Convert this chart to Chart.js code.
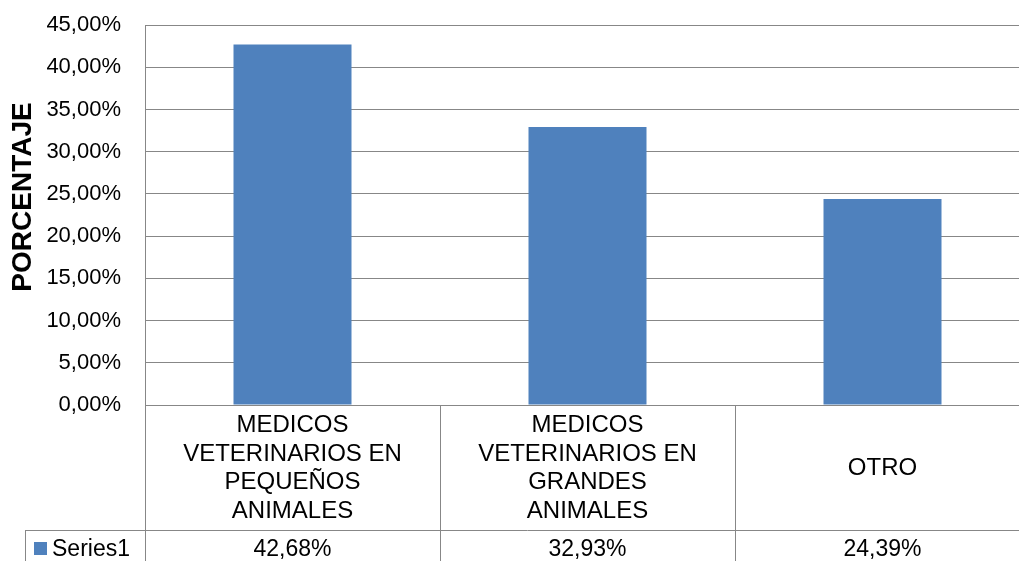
<!DOCTYPE html>
<html>
<head>
<meta charset="utf-8">
<script src="https://cdn.jsdelivr.net/npm/chart.js@4/dist/chart.umd.min.js"></script>
<style>
  html, body { margin: 0; padding: 0; background: #fff; overflow: hidden; }
  #wrap { position: relative; width: 1035px; height: 561px; }
</style>
</head>
<body>
<div id="wrap"><canvas id="chart"></canvas></div>
<script>
const categories = [
  ['MEDICOS', 'VETERINARIOS EN', 'PEQUEÑOS', 'ANIMALES'],
  ['MEDICOS', 'VETERINARIOS EN', 'GRANDES', 'ANIMALES'],
  ['OTRO']
]
const seriesName = 'Series1'
const seriesValues = [42.68, 32.93, 24.39]
const yTicks = [0, 5, 10, 15, 20, 25, 30, 35, 40, 45]
const yTitle = 'PORCENTAJE'

const barColor = '#4F81BD'
const lineColor = '#878787'
const fontFamily = 'Arial, "Liberation Sans", sans-serif'

const fmt = v => v.toFixed(2).replace('.', ',') + '%'

// draws the Excel style data table under the plot, plus the y title
const dataTable = {
  id: 'dataTable',
  afterDraw(chart) {
    const ctx = chart.ctx
    const area = chart.chartArea
    const x = chart.scales.x
    const n = categories.length
    const rowTop = area.bottom
    const rowMid = 530
    const bottom = chart.height
    const legendLeft = 25

    ctx.save()
    ctx.strokeStyle = lineColor
    ctx.lineWidth = 1
    ctx.beginPath()
    for (let i = 0; i <= n; i++) {
      const px = Math.round(x.getPixelForValue(i - 0.5)) + 0.5
      ctx.moveTo(px, rowTop)
      ctx.lineTo(px, bottom)
    }
    ctx.moveTo(legendLeft + 0.5, rowMid)
    ctx.lineTo(legendLeft + 0.5, bottom)
    ctx.moveTo(legendLeft, rowMid + 0.5)
    ctx.lineTo(area.right, rowMid + 0.5)
    ctx.stroke()

    ctx.fillStyle = '#000'
    ctx.textAlign = 'center'
    ctx.textBaseline = 'middle'
    ctx.font = '24px ' + fontFamily
    const lineH = 28.5
    categories.forEach((lines, i) => {
      const cx = x.getPixelForValue(i)
      const cy = (rowTop + rowMid) / 2 + 1
      lines.forEach((t, j) => {
        ctx.fillText(t, cx, cy + (j - (lines.length - 1) / 2) * lineH)
      })
    })
    ctx.font = '23px ' + fontFamily
    seriesValues.forEach((v, i) => {
      ctx.fillText(fmt(v), x.getPixelForValue(i), 550)
    })

    ctx.fillStyle = barColor
    ctx.fillRect(34, 542, 13, 13)
    ctx.fillStyle = '#000'
    ctx.textAlign = 'left'
    ctx.fillText(seriesName, 52, 550)

    // rotated axis title, placed like Excel does (a bit above the plot centre)
    ctx.translate(23, 197)
    ctx.rotate(-Math.PI / 2)
    ctx.textAlign = 'center'
    ctx.font = 'bold 28px ' + fontFamily
    ctx.fillText(yTitle, 0, 0)
    ctx.restore()
  }
}

new Chart(document.getElementById('chart'), {
  type: 'bar',
  data: {
    labels: categories.map(c => c.join(' ')),
    datasets: [{
      label: seriesName,
      data: seriesValues,
      backgroundColor: barColor,
      barPercentage: 0.4,
      categoryPercentage: 1
    }]
  },
  options: {
    responsive: true,
    maintainAspectRatio: false,
    animation: false,
    layout: { padding: { top: 25, right: 5, bottom: 156, left: 0 } },
    plugins: {
      legend: { display: false },
      tooltip: { enabled: false }
    },
    scales: {
      x: {
        ticks: { display: false },
        grid: { display: false, drawTicks: false },
        border: { color: lineColor }
      },
      y: {
        min: 0,
        max: 45,
        afterFit: s => {
          s.width = 145
          s.paddingTop = 0
          s.paddingBottom = 0
        },
        afterBuildTicks: s => { s.ticks = yTicks.map(v => ({ value: v })) },
        ticks: {
          padding: 24,
          color: '#000',
          font: { family: fontFamily, size: 22 },
          callback: v => fmt(v)
        },
        grid: { color: lineColor, drawTicks: false },
        border: { color: lineColor }
      }
    }
  },
  plugins: [dataTable]
})
</script>
</body>
</html>
